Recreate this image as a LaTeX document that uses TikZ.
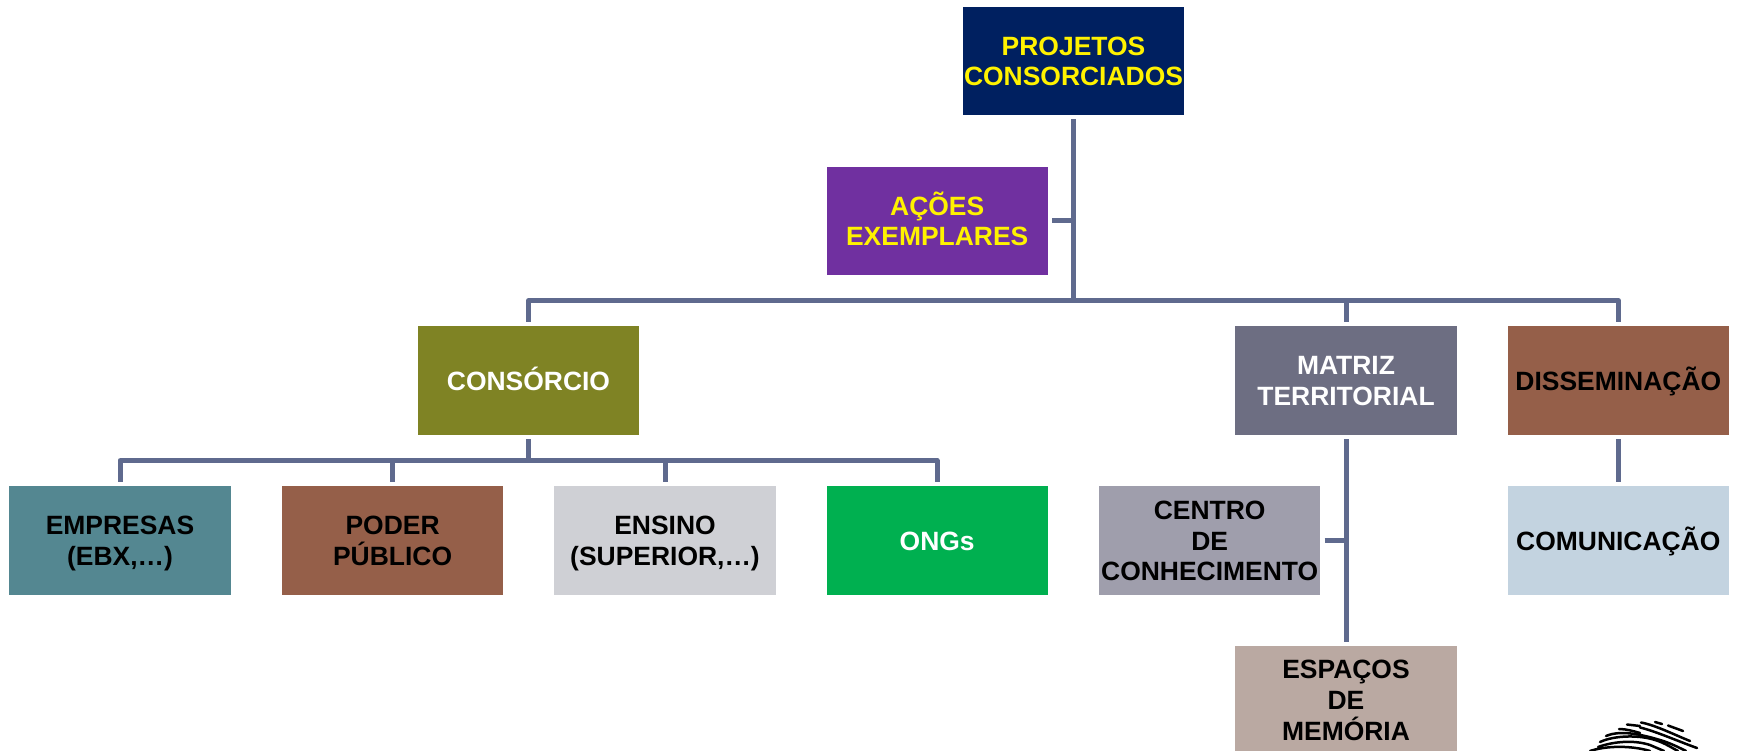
\documentclass[tikz,border=0pt]{standalone}
\usepackage{fontspec}
\setmainfont{Liberation Sans}
\definecolor{cNavy}{HTML}{002060}
\definecolor{cPurple}{HTML}{7030A0}
\definecolor{cOlive}{HTML}{7F8324}
\definecolor{cSlate}{HTML}{6D6E82}
\definecolor{cBrown}{HTML}{955F49}
\definecolor{cTeal}{HTML}{548791}
\definecolor{cSilver}{HTML}{CFD0D5}
\definecolor{cGreen}{HTML}{00B050}
\definecolor{cGrey}{HTML}{9F9EAC}
\definecolor{cTaupe}{HTML}{BAA9A2}
\definecolor{cPale}{HTML}{C3D3E0}
\definecolor{cLine}{HTML}{5F6A8E}
\newcommand{\tl}[1]{\vphantom{H}\raisebox{-0.9pt}{\smash{#1}}}
\tikzset{
  chart/.style={rectangle, minimum width=221.3pt, minimum height=108.5pt, inner sep=0pt,
    align=center, font=\fontsize{26.45}{30.6}\selectfont\bfseries},
  link/.style={draw=cLine, line width=5pt, line join=round},
  ridge/.style={draw=black, line width=2.5pt, line cap=round}
}
\begin{document}
\begin{tikzpicture}[x=1pt,y=-1pt]
\useasboundingbox (0,0) rectangle (1737,751);
\clip (0,0) rectangle (1737,751);
\fill[white] (0,0) rectangle (1737,751);
\node[chart, fill=cNavy, text=yellow] (proj) at (1073.5,61) {\tl{PROJETOS}\\\tl{CONSORCIADOS}};
\node[chart, fill=cPurple, text=yellow] (acoes) at (937.2,221) {\tl{AÇÕES}\\\tl{EXEMPLARES}};
\node[chart, fill=cOlive, text=white] (cons) at (528.5,380.7) {\tl{CONSÓRCIO}};
\node[chart, fill=cSlate, text=white] (matriz) at (1346,380.7) {\tl{MATRIZ}\\\tl{TERRITORIAL}};
\node[chart, fill=cBrown, text=black] (diss) at (1618.3,380.7) {\tl{DISSEMINAÇÃO}};
\node[chart, fill=cTeal, text=black] (emp) at (120,540.5) {\tl{EMPRESAS}\\\tl{(EBX,…)}};
\node[chart, fill=cBrown, text=black] (poder) at (392.6,540.5) {\tl{PODER}\\\tl{PÚBLICO}};
\node[chart, fill=cSilver, text=black] (ensino) at (665,540.5) {\tl{ENSINO}\\\tl{(SUPERIOR,…)}};
\node[chart, fill=cGreen, text=white] (ongs) at (937.2,540.5) {\tl{ONGs}};
\node[chart, fill=cGrey, text=black] (centro) at (1209.7,540.5) {\tl{CENTRO}\\\tl{DE}\\\tl{CONHECIMENTO}};
\node[chart, fill=cPale, text=black] (comun) at (1618.3,540.5) {\tl{COMUNICAÇÃO}};
\node[chart, fill=cTaupe, text=black] (esp) at (1346,700) {\tl{ESPAÇOS}\\\tl{DE}\\\tl{MEMÓRIA}};
\coordinate (busA) at (1073.5,300.7);
\coordinate (busB) at (528.5,460.7);
\draw[link, shorten <=4pt, shorten >=-2.5pt] (proj.south) -- (busA);
\draw[link, shorten <=4pt] (acoes.east) -- (acoes.east -| proj.south);
\draw[link, shorten >=4pt] (busA) -| (cons.north);
\draw[link, shorten >=4pt] (busA) -| (matriz.north);
\draw[link, shorten >=4pt] (busA) -| (diss.north);
\draw[link, shorten <=4pt, shorten >=-2.5pt] (cons.south) -- (busB);
\draw[link, shorten >=4pt] (busB) -| (emp.north);
\draw[link, shorten >=4pt] (busB) -| (poder.north);
\draw[link, shorten >=4pt] (busB) -| (ensino.north);
\draw[link, shorten >=4pt] (busB) -| (ongs.north);
\draw[link, shorten <=4pt, shorten >=4pt] (matriz.south) -- (esp.north);
\draw[link, shorten <=4pt] (centro.east) -- (centro.east -| matriz.south);
\draw[link, shorten <=4pt, shorten >=4pt] (diss.south) -- (comun.north);
% fingerprint
\draw[ridge] (1627,724.5) -- (1640,726);
\draw[ridge] (1641,722.5) .. controls (1655,725) and (1675,735) .. (1690,741);
\draw[ridge] (1619,729) .. controls (1626,729) and (1633,731) .. (1640,733);
\draw[ridge] (1640,727.5) .. controls (1655,731) and (1680,742) .. (1697,748);
\draw[ridge] (1655,722) -- (1662,724);
\draw[ridge] (1668,725.5) -- (1683,731);
\draw[ridge] (1606,736) .. controls (1620,730) and (1640,734) .. (1660,740) .. controls (1670,743) and (1678,747) .. (1686,751);
\draw[ridge] (1600,742) .. controls (1615,735) and (1640,735) .. (1655,740) .. controls (1665,743) and (1672,748) .. (1678,751);
\draw[ridge] (1598,747) .. controls (1615,741) and (1635,740) .. (1650,745) -- (1664,751);
\draw[ridge] (1590,751) .. controls (1605,746) and (1630,745) .. (1650,751);
\end{tikzpicture}
\end{document}
